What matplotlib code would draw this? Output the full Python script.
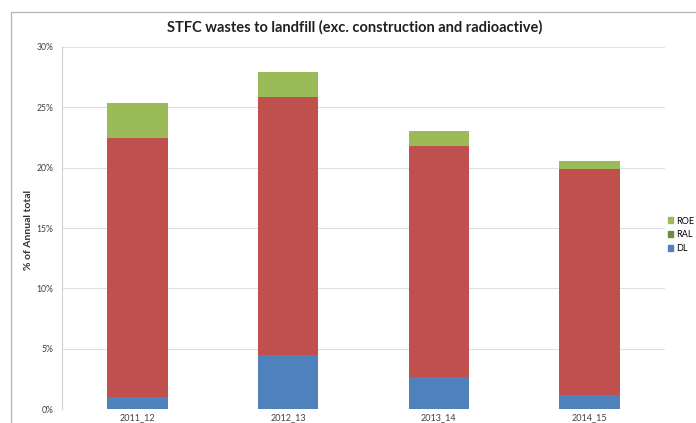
import matplotlib.pyplot as plt
from matplotlib.patches import Patch, Rectangle
import numpy as np

# dados (% do total anual)
anos = ["2011_12", "2012_13", "2013_14", "2014_15"]
dl = [1.0, 4.5, 2.65, 1.15]
ral = [21.45, 21.35, 19.15, 18.75]
roe = [2.9, 2.05, 1.2, 0.65]

yticks = [0, 5, 10, 15, 20, 25, 30]
ytick_labels = ["0%", "5%", "10%", "15%", "20%", "25%", "30%"]

azul = "#4f81bd"
vermelho = "#c0504d"
verde = "#9bbb59"
verde_escuro = "#6a8f3f"

plt.rcParams["font.family"] = ["Lato", "DejaVu Sans"]

fig = plt.figure(figsize=(6.96, 4.23), dpi=100)
ax = fig.add_axes([62/696, 14/423, (665-62)/696, (409-47)/423])

x = np.arange(len(anos))
larg = 0.4
base = np.zeros(len(anos))
ax.bar(x, dl, larg, bottom=base, color=azul, zorder=3)
base = base + np.array(dl)
ax.bar(x, ral, larg, bottom=base, color=vermelho, zorder=3)
base = base + np.array(ral)
ax.bar(x, roe, larg, bottom=base, color=verde, zorder=3)

ax.set_xlim(-0.5, len(anos) - 0.5)
ax.set_ylim(0, 30)
ax.set_yticks(yticks)
ax.set_yticklabels(ytick_labels, fontsize=6.2, color="#404040")
ax.set_xticks(x)
ax.set_xticklabels(anos, fontsize=6.5, color="#404040")
ax.tick_params(axis="both", length=0, pad=3)
ax.tick_params(axis="y", pad=6)
ax.grid(axis="y", color="#e0e0e0", linewidth=0.8, zorder=0)
for lado in ["top", "right", "bottom"]:
    ax.spines[lado].set_visible(False)
ax.spines["left"].set_color("#d0d0d0")

fig.text(29/696, 1 - 230/423, "% of Annual total", rotation=90, ha="center", va="center",
         fontsize=7.5, fontweight="bold", color="#303030")
fig.text(0.51, 0.935, "STFC wastes to landfill (exc. construction and radioactive)",
         ha="center", va="center", fontsize=10.5, fontweight="bold", color="#202020")

# legenda (cortada na borda direita como na imagem)
handles = [Patch(color=verde, label="ROE"),
           Patch(color=verde_escuro, label="RAL"),
           Patch(color=azul, label="DL")]
fig.legend(handles=handles, loc="upper left", bbox_to_anchor=(663/696, 1 - 212/423),
           frameon=False, fontsize=6.5, handlelength=0.6, handleheight=0.6,
           handletextpad=0.3, labelspacing=0.55, borderpad=0)

# moldura do grafico
fig.patches.append(Rectangle((11/696, -0.1), 1.2, 1 - 12/423 + 0.1, transform=fig.transFigure,
                             fill=False, edgecolor="#b8b8b8", linewidth=1.0))

fig.savefig("out.png", dpi=100)
